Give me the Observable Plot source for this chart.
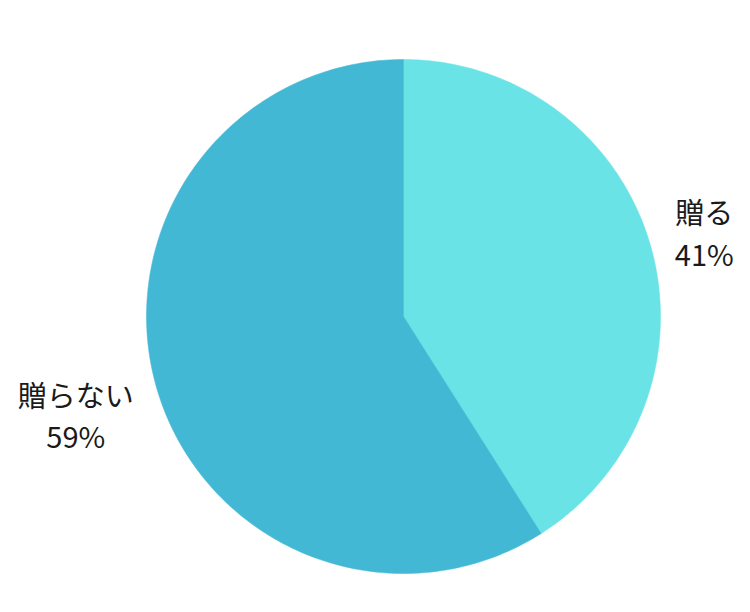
<!DOCTYPE html>
<html>
<head>
<meta charset="utf-8">
<script src="https://cdn.jsdelivr.net/npm/d3@7"></script>
<script src="https://cdn.jsdelivr.net/npm/@observablehq/plot@0.6"></script>
<style>
  html, body { margin: 0; padding: 0; background: #fff; }
  #chart { width: 750px; height: 612px; }
</style>
</head>
<body>
<div id="chart"></div>
<script>
const categories = ["贈る", "贈らない"];
const values = [41, 59];
const labels = ["41%", "59%"];
const colors = ["#6AE3E7", "#43B8D5"];

const pie = d3.pie().sort(null).value(d => d.value)(
  categories.map((c, i) => ({category: c, value: values[i], label: labels[i]}))
);

// Build slice polygons in unit coordinates (angle measured clockwise from top)
const pts = [];
for (const s of pie) {
  const n = 200;
  pts.push({category: s.data.category, x: 0, y: 0});
  for (let k = 0; k <= n; k++) {
    const a = s.startAngle + (s.endAngle - s.startAngle) * k / n;
    pts.push({category: s.data.category, x: Math.sin(a), y: Math.cos(a)});
  }
  pts.push({category: s.data.category, x: 0, y: 0});
}

const labelR = 1.097;
const labelData = pie.map(s => {
  const m = (s.startAngle + s.endAngle) / 2;
  return {
    text: s.data.category + "\n" + s.data.label,
    x: labelR * Math.sin(m),
    y: labelR * Math.cos(m),
    side: Math.sin(m) >= 0 ? "right" : "left"
  };
});

const chart = Plot.plot({
  width: 750,
  height: 612,
  marginLeft: 146,
  marginRight: 90,
  marginTop: 59,
  marginBottom: 39,
  x: {domain: [-1, 1], axis: null},
  y: {domain: [-1, 1], axis: null},
  color: {domain: categories, range: colors},
  style: {background: "#fff", fontFamily: "'Noto Sans CJK JP', 'Noto Sans', sans-serif"},
  marks: [
    Plot.line(pts, {x: "x", y: "y", z: "category", fill: "category", stroke: "category", strokeWidth: 0.5, curve: "linear"}),
    Plot.text(labelData.filter(d => d.side === "right"), {
      x: "x", y: "y", text: "text", textAnchor: "middle", dx: 30, dy: -6,
      fontSize: 29, lineHeight: 1.42, fill: "#1a1a1a"
    }),
    Plot.text(labelData.filter(d => d.side === "left"), {
      x: "x", y: "y", text: "text", textAnchor: "middle", dx: -57, dy: 19,
      fontSize: 29, lineHeight: 1.42, fill: "#1a1a1a"
    })
  ]
});
document.getElementById("chart").appendChild(chart);
</script>
</body>
</html>
